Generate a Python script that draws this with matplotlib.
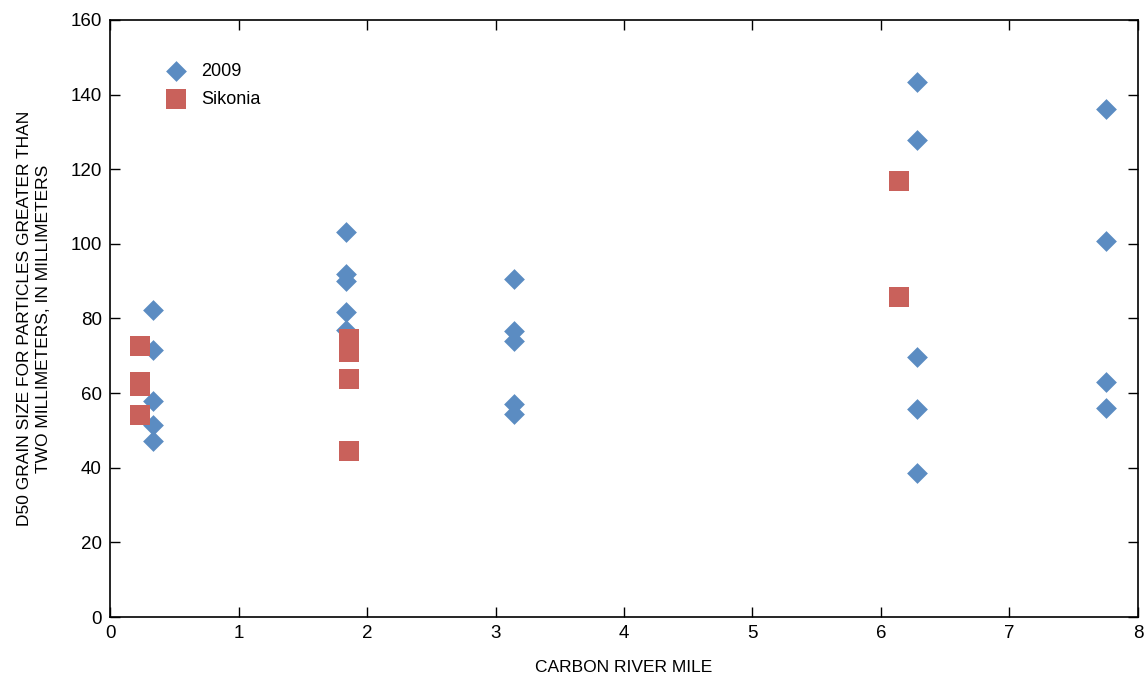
import matplotlib.pyplot as plt

# river mile vs D50 grain size (mm)
mile_2009 = [0.335, 0.335, 0.335, 0.335, 0.335,
             1.837, 1.837, 1.837, 1.837, 1.837,
             3.144, 3.144, 3.144, 3.144, 3.144,
             6.28, 6.28, 6.28, 6.28, 6.28,
             7.75, 7.75, 7.75, 7.75]
d50_2009 = [82.3, 71.6, 57.9, 51.5, 47.2,
            103.3, 91.8, 90.0, 81.7, 76.8,
            90.7, 76.7, 74.0, 57.1, 54.4,
            143.3, 127.8, 69.6, 55.8, 38.5,
            136.2, 100.8, 63.1, 55.9]

mile_sik = [0.233, 0.233, 0.233, 0.233,
            1.86, 1.86, 1.86, 1.86,
            6.14, 6.14]
d50_sik = [72.6, 63.0, 62.0, 54.1,
           74.6, 71.0, 63.7, 44.4,
           116.9, 85.8]

plt.rcParams['font.family'] = ['Liberation Sans', 'DejaVu Sans']

blue = '#5b8cc2'
red = '#c9615b'

fig = plt.figure(figsize=(11.46, 6.82), dpi=100)
ax = fig.add_axes([0.096, 0.0953, 0.897, 0.8754])

ax.scatter(mile_2009, d50_2009, marker='D', s=112, color=blue, linewidths=0, label='2009', zorder=2)
ax.scatter(mile_sik, d50_sik, marker='s', s=215, color=red, linewidths=0, label='Sikonia', zorder=3)

ax.set_xlim(0, 8)
ax.set_ylim(0, 160)
ax.set_xticks(range(0, 9))
ax.set_yticks(range(0, 161, 20))
ax.tick_params(direction='in', top=True, right=True, length=7, width=1, labelsize=13.5, pad=6)
for sp in ax.spines.values():
    sp.set_linewidth(1.2)

ax.set_xlabel('CARBON RIVER MILE', fontsize=12.5, labelpad=13)
ax.set_ylabel('D50 GRAIN SIZE FOR PARTICLES GREATER THAN\nTWO MILLIMETERS, IN MILLIMETERS',
              fontsize=12.5, linespacing=1.3, labelpad=14)

ax.legend(loc='upper left', bbox_to_anchor=(0.04, 0.94), frameon=False, fontsize=13,
          handletextpad=0.35, labelspacing=0.6, borderaxespad=0)

fig.savefig('out.png', dpi=100)
